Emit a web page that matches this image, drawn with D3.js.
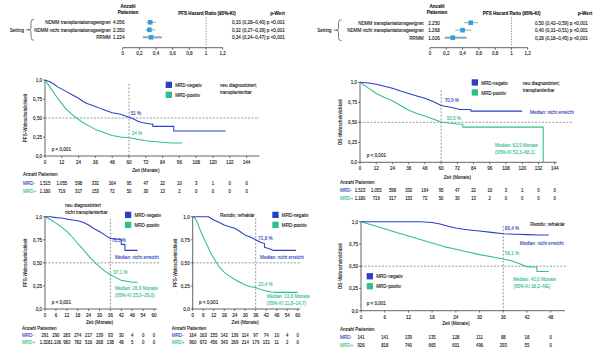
<!DOCTYPE html>
<html>
<head>
<meta charset="utf-8">
<script src="https://cdn.jsdelivr.net/npm/d3@7"></script>
<style>
body { margin: 0; background: #fff; }
svg text { font-family: "Liberation Sans", Arial, sans-serif; font-size: 5.8px; }
</style>
</head>
<body>
<svg width="600" height="362"></svg>
<script>
'use strict';

var BLUE = '#2c3fc2';
var GREEN = '#2fbf89';
var INK = '#111';
var SX = 0.79; // the original uses a condensed face

// ---- forest plots ----
var forestRows = ['NDMM transplantationsgeeignet', 'NDMM nicht transplantationsgeeignet', 'RRMM'];
var forestTicks = [0, 0.2, 0.4, 0.6, 0.8, 1, 1.2];
var pfsN = ['4.056', '2.350', '1.224'];
var pfsHR = [0.33, 0.32, 0.34];
var pfsLo = [0.28, 0.27, 0.24];
var pfsHi = [0.40, 0.39, 0.47];
var osN = ['2.250', '1.268', '1.026'];
var osHR = [0.50, 0.40, 0.28];
var osLo = [0.42, 0.31, 0.18];
var osHi = [0.59, 0.51, 0.45];

// ---- Kaplan-Meier curves (months, survival); repeated months are drops ----
// PFS, neu diagnostiziert, transplantierbar
var ndtePfsNegT = [0, 3, 6, 9, 12, 15, 18, 21, 24, 27, 30, 33, 36, 39, 42, 45, 48, 51, 54, 57, 60, 63, 66, 69, 72, 75, 77, 77, 92, 92, 129];
var ndtePfsNegS = [1, 0.98, 0.95, 0.91, 0.88, 0.85, 0.82, 0.79, 0.76, 0.72, 0.69, 0.67, 0.65, 0.63, 0.61, 0.59, 0.57, 0.56, 0.55, 0.53, 0.51, 0.49, 0.46, 0.44, 0.43, 0.42, 0.42, 0.39, 0.39, 0.33, 0.33];
var ndtePfsPosT = [0, 3, 6, 9, 12, 15, 18, 21, 24, 27, 30, 33, 36, 39, 42, 45, 48, 54, 60, 66, 72, 78, 84, 90, 98];
var ndtePfsPosS = [1, 0.92, 0.84, 0.76, 0.69, 0.62, 0.57, 0.52, 0.48, 0.44, 0.41, 0.38, 0.35, 0.33, 0.31, 0.29, 0.27, 0.25, 0.24, 0.22, 0.20, 0.19, 0.18, 0.17, 0.17];
// OS, neu diagnostiziert, transplantierbar
var ndteOsNegT = [0, 6, 12, 18, 24, 30, 36, 42, 48, 54, 60, 66, 72, 74, 82, 82, 120];
var ndteOsNegS = [1, 0.99, 0.975, 0.95, 0.925, 0.89, 0.86, 0.83, 0.80, 0.76, 0.71, 0.69, 0.67, 0.66, 0.66, 0.64, 0.64];
var ndteOsPosT = [0, 6, 12, 18, 24, 30, 36, 42, 48, 54, 60, 66, 72, 76, 76, 135.5, 135.5];
var ndteOsPosS = [1, 0.93, 0.86, 0.81, 0.77, 0.71, 0.65, 0.61, 0.58, 0.54, 0.505, 0.49, 0.48, 0.475, 0.44, 0.44, 0];
// PFS, neu diagnostiziert, nicht transplantierbar
var ndnePfsNegT = [0, 3, 6, 9, 12, 15, 18, 21, 24, 27, 30, 33, 36, 40, 42, 42, 44, 44, 51];
var ndnePfsNegS = [1, 1, 0.99, 0.985, 0.975, 0.965, 0.955, 0.94, 0.91, 0.87, 0.84, 0.80, 0.763, 0.755, 0.755, 0.70, 0.70, 0.635, 0.635];
var ndnePfsPosT = [0, 3, 6, 9, 12, 15, 18, 21, 24, 27, 30, 33, 36, 39, 42, 45, 48, 51];
var ndnePfsPosS = [1, 0.97, 0.93, 0.89, 0.84, 0.78, 0.71, 0.645, 0.575, 0.51, 0.46, 0.41, 0.371, 0.34, 0.31, 0.30, 0.29, 0.29];
// PFS, Rezidiv/refraktaer
var rrPfsNegT = [0, 9, 12, 15, 18, 21, 24, 27, 30, 33, 36, 39, 41, 41, 45, 46, 59];
var rrPfsNegS = [1, 1, 0.965, 0.94, 0.91, 0.89, 0.875, 0.84, 0.80, 0.78, 0.75, 0.72, 0.71, 0.67, 0.645, 0.635, 0.635];
var rrPfsPosT = [0, 1, 2, 3, 4, 5, 6, 7, 8, 9, 10, 11, 12, 13, 14, 15, 16, 18, 20, 22, 24, 27, 30, 33, 36, 39, 42, 45, 48, 54, 60];
var rrPfsPosS = [1, 0.99, 0.96, 0.92, 0.87, 0.82, 0.78, 0.74, 0.70, 0.66, 0.62, 0.58, 0.555, 0.52, 0.49, 0.46, 0.44, 0.40, 0.37, 0.345, 0.32, 0.29, 0.26, 0.24, 0.234, 0.21, 0.195, 0.185, 0.18, 0.18, 0.18];
// OS, Rezidiv/refraktaer
var rrOsNegT = [0, 15, 18, 20, 22, 24, 26, 28, 30, 33, 36, 39, 42, 45, 47.5];
var rrOsNegS = [1, 1, 0.99, 0.975, 0.95, 0.93, 0.915, 0.905, 0.895, 0.88, 0.864, 0.86, 0.855, 0.85, 0.85];
var rrOsPosT = [0, 3, 6, 9, 12, 15, 18, 21, 24, 27, 30, 33, 36, 38, 40, 41, 42, 44.5, 44.5, 47.5];
var rrOsPosS = [1, 0.96, 0.92, 0.88, 0.84, 0.80, 0.76, 0.72, 0.69, 0.66, 0.63, 0.605, 0.581, 0.56, 0.53, 0.51, 0.495, 0.49, 0.44, 0.44];

// ---- number at risk ----
var ndteRiskNeg = ['1.515', '1.055', '598', '332', '164', '95', '47', '22', '10', '3', '1', '0', '0'];
var ndteRiskPos = ['1.180', '719', '317', '153', '72', '50', '30', '13', '2', '0', '0', '0', '0'];
var ndneRiskNeg = ['291', '290', '283', '274', '217', '139', '93', '30', '4', '0', '0'];
var ndneRiskPos = ['1.328', '1.106', '983', '782', '516', '268', '138', '48', '5', '0', '0'];
var rrPfsRiskNeg = ['164', '163', '155', '142', '136', '114', '97', '74', '10', '4', '0'];
var rrPfsRiskPos = ['960', '672', '456', '343', '269', '214', '179', '131', '11', '2', '0'];
var rrOsRiskNeg = ['141', '141', '139', '135', '128', '111', '88', '18', '0'];
var rrOsRiskPos = ['926', '818', '740', '665', '601', '496', '293', '55', '0'];

var yTicks = [0, 0.25, 0.5, 0.75, 1];
var yTickLabels = ['0,0', '0,25', '0,50', '0,75', '1,0'];

var svg = d3.select('svg');
var comma = function (v) { return d3.format('.2f')(v).replace('.', ','); };
var tickFmt = function (v) { return v === 0 || v === 1 ? String(v) : d3.format('.1f')(v).replace('.', ','); };

// condensed text: placed by transform, then squeezed horizontally
function label(g, x, y, s, anchor, color) {
    return g.append('text')
        .attr('transform', 'translate(' + x + ',' + y + ') scale(' + SX + ',1)')
        .attr('dy', '0.35em')
        .attr('text-anchor', anchor || 'start')
        .style('fill', color || INK)
        .style('stroke', color || INK)
        .style('stroke-width', 0.12)
        .text(s);
}

function brace(g, xTip, xMid, xEnd, top, bot) {
    var mid = (top + bot) / 2;
    var p = d3.path();
    p.moveTo(xEnd, top);
    p.quadraticCurveTo(xMid, top, xMid, top + 3);
    p.lineTo(xMid, mid - 2);
    p.quadraticCurveTo(xMid, mid, xTip, mid);
    p.quadraticCurveTo(xMid, mid, xMid, mid + 2);
    p.lineTo(xMid, bot - 3);
    p.quadraticCurveTo(xMid, bot, xEnd, bot);
    g.append('path').attr('d', p.toString()).attr('fill', 'none').attr('stroke', '#222').attr('stroke-width', 0.6);
    g.append('line').attr('x1', xTip - 2.5).attr('x2', xTip).attr('y1', mid).attr('y2', mid).attr('stroke', '#222').attr('stroke-width', 0.6);
}

function drawForest(o) {
    var g = svg.append('g');
    var x = d3.scaleLinear().domain([0, 1.2]).range([o.x0, o.x1]);
    var y = d3.scalePoint().domain(d3.range(3)).range([o.rowTop, o.rowTop + 15]);

    label(g, o.nX, 5.8, 'Anzahl', 'middle').attr('font-weight', 'bold');
    label(g, o.nX, 11.8, 'Patienten', 'middle').attr('font-weight', 'bold');
    label(g, o.hrX, 13.4, 'PFS Hazard Ratio (95%-KI)', 'middle').attr('font-weight', 'bold');
    label(g, o.pX, 13.4, 'p-Wert', 'middle').attr('font-weight', 'bold');

    label(g, o.setX, y(1), 'Setting', 'end');
    brace(g, o.setX + 4.5, o.setX + 7, o.setX + 10, y(0) - 3, y(2) + 3);

    forestRows.forEach(function (d, i) {
        label(g, o.labX, y(i), d, 'end');
        label(g, o.countX, y(i), o.n[i]);
        label(g, o.valX, y(i), comma(o.hr[i]) + ' (' + comma(o.lo[i]) + '\u2013' + comma(o.hi[i]) + ') p <0,001');
    });

    g.append('line').attr('x1', x(1)).attr('x2', x(1)).attr('y1', 17).attr('y2', o.axisY - 2)
        .attr('stroke', '#555').attr('stroke-width', 0.6).attr('stroke-dasharray', '1.5,1.2');

    g.selectAll('.ci').data(o.hr).enter().append('line')
        .attr('x1', function (d, i) { return x(o.lo[i]); })
        .attr('x2', function (d, i) { return x(o.hi[i]); })
        .attr('y1', function (d, i) { return y(i); })
        .attr('y2', function (d, i) { return y(i); })
        .attr('stroke', '#9aa3ab').attr('stroke-width', function (d, i) { return i === 2 ? 2 : 1; });
    g.selectAll('.pt').data(o.hr).enter().append('rect')
        .attr('x', function (d) { return x(d) - 2.3; })
        .attr('y', function (d, i) { return y(i) - 2.3; })
        .attr('width', 4.6).attr('height', 4.6).attr('fill', '#2aa4df');

    var ax = g.append('g').attr('transform', 'translate(0,' + o.axisY + ')');
    ax.append('line').attr('x1', x(0)).attr('x2', x(1.2)).attr('stroke', '#222').attr('stroke-width', 0.7);
    ax.selectAll('.tk').data(forestTicks).enter().append('line')
        .attr('x1', x).attr('x2', x).attr('y1', 0).attr('y2', 2).attr('stroke', '#222').attr('stroke-width', 0.7);
    forestTicks.forEach(function (t) { label(ax, x(t), 5.4, tickFmt(t), 'middle'); });
}

drawForest({ x0: 122.7, x1: 222.7, rowTop: 22.3, axisY: 47.7, nX: 128, hrX: 207, pX: 277.5, setX: 24, labX: 110.5, countX: 113, valX: 232, n: pfsN, hr: pfsHR, lo: pfsLo, hi: pfsHi });
drawForest({ x0: 430, x1: 527.7, rowTop: 22.7, axisY: 47.7, nX: 437, hrX: 511.7, pX: 585, setX: 331.5, labX: 423.5, countX: 428.3, valX: 535, n: osN, hr: osHR, lo: osLo, hi: osHi });

function drawKM(p) {
    var g = svg.append('g');
    var x = d3.scaleLinear().domain([0, p.tmax]).range([p.x0, p.x1]);
    var y = d3.scaleLinear().domain([0, 1]).range([p.y0, p.y1]);
    var ticks = d3.range(0, p.tmax + 0.01, p.tstep);

    // reference lines
    g.append('line').attr('x1', x(0)).attr('x2', x(p.dashEnd)).attr('y1', y(0.5)).attr('y2', y(0.5))
        .attr('stroke', '#555').attr('stroke-width', 0.6).attr('stroke-dasharray', '2,1.5');
    g.append('line').attr('x1', x(p.vAt)).attr('x2', x(p.vAt)).attr('y1', y(p.vTop)).attr('y2', y(0))
        .attr('stroke', '#555').attr('stroke-width', 0.6).attr('stroke-dasharray', '2,1.5');

    // axes
    g.append('line').attr('x1', x(0)).attr('x2', x(p.axisEnd)).attr('y1', y(0)).attr('y2', y(0)).attr('stroke', '#222').attr('stroke-width', 0.7);
    g.append('line').attr('x1', x(0)).attr('x2', x(0)).attr('y1', y(0)).attr('y2', y(1)).attr('stroke', '#222').attr('stroke-width', 0.7);
    g.selectAll('.xt').data(ticks).enter().append('line')
        .attr('x1', x).attr('x2', x).attr('y1', y(0)).attr('y2', y(0) + 2).attr('stroke', '#222').attr('stroke-width', 0.6);
    ticks.forEach(function (t) { label(g, x(t), y(0) + 5.8, String(t), 'middle'); });
    g.selectAll('.yt').data(yTicks).enter().append('line')
        .attr('x1', x(0) - 2).attr('x2', x(0)).attr('y1', y).attr('y2', y).attr('stroke', '#222').attr('stroke-width', 0.6);
    yTicks.forEach(function (t, i) { label(g, x(0) - 3, y(t), yTickLabels[i], 'end'); });

    label(g, x(p.tmax / 2), y(0) + p.xTitleDy, 'Zeit (Monate)', 'middle');
    g.append('text').attr('transform', 'translate(' + p.yTitleX + ',' + y(0.5) + ') rotate(-90) scale(' + SX + ',1)')
        .attr('text-anchor', 'middle').attr('dy', '0.35em')
        .style('fill', INK).style('stroke', INK).style('stroke-width', 0.12).text(p.yTitle);

    // curves
    var line = d3.line().x(function (d) { return x(d[0]); }).y(function (d) { return y(d[1]); });
    [[p.posT, p.posS, GREEN], [p.negT, p.negS, BLUE]].forEach(function (c) {
        g.append('path').datum(d3.zip(c[0], c[1])).attr('d', line)
            .attr('fill', 'none').attr('stroke', c[2]).attr('stroke-width', 1.05).attr('stroke-linejoin', 'round');
    });

    // legend
    var lg = g.append('g').attr('transform', 'translate(' + x(p.legend[0]) + ',' + y(p.legend[1]) + ')');
    [['MRD-negativ', BLUE], ['MRD-positiv', GREEN]].forEach(function (d, i) {
        lg.append('rect').attr('x', 0).attr('y', i * 10).attr('width', 6.3).attr('height', 6.3).attr('fill', d[1]);
        label(lg, 9.5, i * 10 + 3.2, d[0]);
    });

    // notes in data coordinates
    p.notes.forEach(function (n) {
        n.lines.forEach(function (s, i) {
            label(g, x(n.at[0]), y(n.at[1]) + i * 7, s, 'start', n.c);
        });
    });

    // number at risk
    label(g, p.tabX, p.tabY[0], 'Anzahl Patienten');
    [['MRD-', p.riskNeg, BLUE, p.tabY[1]], ['MRD+', p.riskPos, GREEN, p.tabY[2]]].forEach(function (r) {
        label(g, p.tabX, r[3], r[0], 'start', r[2]);
        r[1].forEach(function (v, i) {
            label(g, x(ticks[i]), r[3], v, 'middle').style('font-size', '5.4px');
        });
    });
}

drawKM({
    x0: 45, x1: 246.6, y0: 156, y1: 80, tmax: 144, tstep: 12, axisEnd: 153, dashEnd: 153, vAt: 60, vTop: 0.95,
    yTitle: 'PFS-Wahrscheinlichkeit', yTitleX: 25, xTitleDy: 14,
    negT: ndtePfsNegT, negS: ndtePfsNegS, posT: ndtePfsPosT, posS: ndtePfsPosS,
    legend: [86.2, 0.978],
    notes: [
        { at: [125, 0.934], lines: ['neu diagnostiziert;', 'transplantierbar'] },
        { at: [61.2, 0.566], lines: ['51 %'], c: BLUE },
        { at: [61.9, 0.30], lines: ['24 %'], c: GREEN },
        { at: [4.8, 0.092], lines: ['p < 0,001'] }
    ],
    tabX: 23, tabY: [174, 183, 190.7], riskNeg: ndteRiskNeg, riskPos: ndteRiskPos
});

drawKM({
    x0: 360, x1: 554.7, y0: 162.3, y1: 82.3, tmax: 144, tstep: 12, axisEnd: 145.5, dashEnd: 158, vAt: 60, vTop: 0.9,
    yTitle: 'OS-Wahrscheinlichkeit', yTitleX: 340, xTitleDy: 15,
    negT: ndteOsNegT, negS: ndteOsNegS, posT: ndteOsPosT, posS: ndteOsPosS,
    legend: [82.6, 1.0375],
    notes: [
        { at: [120.3, 0.991], lines: ['neu diagnostiziert;', 'transplantierbar'] },
        { at: [62.6, 0.779], lines: ['70,9 %'], c: BLUE },
        { at: [64.1, 0.5575], lines: ['50,5 %'], c: GREEN },
        { at: [125.7, 0.625], lines: ['Median: nicht erreicht'], c: BLUE },
        { at: [99.9, 0.216], lines: ['Median: 63,9 Monate', '(95%-KI 52,3\u201368,1)'], c: GREEN },
        { at: [5, 0.091], lines: ['p < 0,001'] }
    ],
    tabX: 340, tabY: [181.7, 190, 197.7], riskNeg: ndteRiskNeg, riskPos: ndteRiskPos
});

drawKM({
    x0: 45, x1: 154, y0: 309, y1: 216.7, tmax: 60, tstep: 6, axisEnd: 61.6, dashEnd: 63, vAt: 36, vTop: 0.98,
    yTitle: 'PFS-Wahrscheinlichkeit', yTitleX: 25, xTitleDy: 12.7,
    negT: ndnePfsNegT, negS: ndnePfsNegS, posT: ndnePfsPosT, posS: ndnePfsPosS,
    legend: [44, 1.054],
    notes: [
        { at: [11, 1.127], lines: ['neu diagnostiziert', 'nicht transplantierbar'] },
        { at: [36.7, 0.748], lines: ['76,3 %'], c: BLUE },
        { at: [37.6, 0.404], lines: ['37,1 %'], c: GREEN },
        { at: [38.5, 0.567], lines: ['Median: nicht erreicht'], c: BLUE },
        { at: [38.5, 0.224], lines: ['Median: 26,9 Monate', '(95%-KI 25,0\u201329,0)'], c: GREEN },
        { at: [3.7, 0.079], lines: ['p < 0,001'] }
    ],
    tabX: 22, tabY: [327.7, 335, 342.3], riskNeg: ndneRiskNeg, riskPos: ndneRiskPos
});

drawKM({
    x0: 192.7, x1: 297.7, y0: 309, y1: 216.7, tmax: 60, tstep: 6, axisEnd: 61.4, dashEnd: 61.4, vAt: 36, vTop: 0.98,
    yTitle: 'PFS-Wahrscheinlichkeit', yTitleX: 175, xTitleDy: 12.7,
    negT: rrPfsNegT, negS: rrPfsNegS, posT: rrPfsPosT, posS: rrPfsPosS,
    legend: [45.5, 1.054],
    notes: [
        { at: [15.6, 1.018], lines: ['Rezidiv; refraktär'] },
        { at: [37.5, 0.766], lines: ['71,8 %'], c: BLUE },
        { at: [37.5, 0.271], lines: ['23,4 %'], c: GREEN },
        { at: [38.5, 0.56], lines: ['Median: nicht erreicht'], c: BLUE },
        { at: [42.3, 0.14], lines: ['Median: 13,8 Monate', '(95%-KI 11,8\u201314,7)'], c: GREEN },
        { at: [3.6, 0.079], lines: ['p < 0,001'] }
    ],
    tabX: 171.7, tabY: [327.7, 335, 342.3], riskNeg: rrPfsRiskNeg, riskPos: rrPfsRiskPos
});

drawKM({
    x0: 361, x1: 550.7, y0: 310.7, y1: 221.7, tmax: 48, tstep: 6, axisEnd: 51.6, dashEnd: 52.3, vAt: 36, vTop: 0.955,
    yTitle: 'OS-Wahrscheinlichkeit', yTitleX: 340, xTitleDy: 12.6,
    negT: rrOsNegT, negS: rrOsNegS, posT: rrOsPosT, posS: rrOsPosS,
    legend: [1.44, 0.4225],
    notes: [
        { at: [42.8, 0.974], lines: ['Rezidiv; refraktär'] },
        { at: [36.4, 0.926], lines: ['86,4 %'], c: BLUE },
        { at: [36.4, 0.645], lines: ['58,1 %'], c: GREEN },
        { at: [40.2, 0.757], lines: ['Median: nicht erreicht'], c: BLUE },
        { at: [38.5, 0.356], lines: ['Median: 42,0 Monate', '(95%-KI 38,2\u2013NE)'], c: GREEN },
        { at: [1.44, 0.083], lines: ['p < 0,001'] }
    ],
    tabX: 340, tabY: [329.3, 337.3, 345], riskNeg: rrOsRiskNeg, riskPos: rrOsRiskPos
});
</script>
</body>
</html>
